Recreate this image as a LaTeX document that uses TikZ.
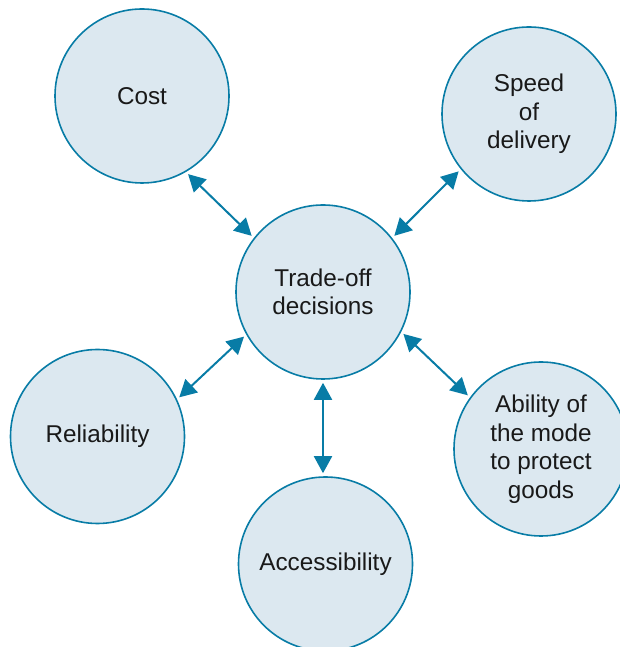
\documentclass[tikz,border=0pt]{standalone}
\usepackage{fontspec}
\setmainfont{Liberation Sans}
\usetikzlibrary{arrows.meta}
\definecolor{edgeblue}{RGB}{8,124,166}
\definecolor{fillblue}{RGB}{220,232,240}
\begin{document}
\begin{tikzpicture}[x=1pt,y=1pt,
  bubble/.style={circle, draw=edgeblue, line width=1.6pt, fill=fillblue, minimum size=174pt, inner sep=0pt, align=center, font=\fontsize{24.3}{28.5}\selectfont, text=black!90},
  link/.style={draw=edgeblue, line width=2pt, {Triangle[length=17pt,width=18pt]}-{Triangle[length=17pt,width=18pt]}, shorten <=3pt, shorten >=3pt}]
\useasboundingbox (0,0) rectangle (620,647);
\begin{scope}
\clip (0,0) rectangle (620,647);
\node[bubble] (cost) at (142,551) {Cost};
\node[bubble] (speed) at (529,533) {Speed\\of\\delivery};
\node[bubble] (trade) at (323,355) {Trade-off\\decisions};
\node[bubble] (rel) at (97.5,210.5) {Reliability};
\node[bubble] (abil) at (541,198) {Ability of\\the mode\\to protect\\goods};
\node[bubble] (acc) at (325.5,83) {Accessibility};
\end{scope}
\draw[link] (cost.-60) -- (trade.142);
\draw[link] (speed.219) -- (trade.38);
\draw[link] (rel.25) -- (trade.209);
\draw[link] (abil.144) -- (trade.-27);
\draw[link] (acc.north -| trade.south) -- (trade.south);
\end{tikzpicture}
\end{document}
